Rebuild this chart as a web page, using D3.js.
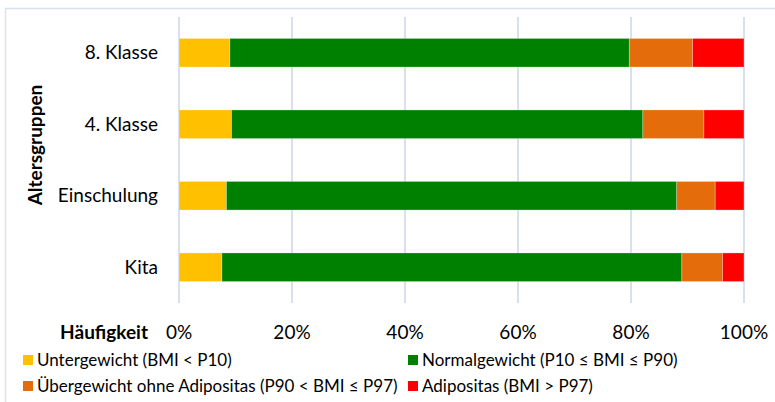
<!DOCTYPE html>
<html>
<head>
<meta charset="utf-8">
<script src="https://cdn.jsdelivr.net/npm/d3@7"></script>
<style>
  html, body { margin: 0; padding: 0; background: #fff; }
  svg { display: block; font-family: Lato, "Open Sans", sans-serif; }
</style>
</head>
<body>
<svg id="chart" width="775" height="402"></svg>
<script>
// Altersgruppen (oben nach unten)
const categories = ["8. Klasse", "4. Klasse", "Einschulung", "Kita"];

// Anteile je Gewichtsklasse in %
const untergewicht  = [9.0, 9.3, 8.4, 7.6];
const normalgewicht = [70.7, 72.8, 79.7, 81.4];
const uebergewicht  = [11.2, 10.8, 6.8, 7.2];
const adipositas    = [9.1, 7.1, 5.1, 3.8];

const seriesNames = [
  "Untergewicht (BMI < P10)",
  "Normalgewicht (P10 ≤ BMI ≤ P90)",
  "Übergewicht ohne Adipositas (P90 < BMI ≤ P97)",
  "Adipositas (BMI > P97)"
];
const seriesColors = ["#FFC000", "#008000", "#E46C0A", "#FF0000"];
const tickValues = [0, 20, 40, 60, 80, 100];

const svg = d3.select("#chart");

// Rahmen des Diagrammbereichs
svg.append("rect")
  .attr("x", 5.5).attr("y", 8.5)
  .attr("width", 800).attr("height", 420)
  .attr("fill", "none")
  .attr("stroke", "#D9E2F1")
  .attr("stroke-width", 1.5);

const plotTop = 17, plotBottom = 303;
const x = d3.scaleLinear().domain([0, 100]).range([179, 744]);
const y = d3.scaleBand().domain(categories).range([plotTop, plotBottom])
  .paddingInner(0.6).paddingOuter(0.3);

// Gitterlinien
svg.append("g").selectAll("line")
  .data(tickValues).join("line")
  .attr("x1", d => x(d)).attr("x2", d => x(d))
  .attr("y1", plotTop).attr("y2", plotBottom)
  .attr("stroke", "#D6E0F0")
  .attr("stroke-width", 2);

// Gestapelte Balken
const rows = categories.map((c, i) => ({
  cat: c,
  s0: untergewicht[i], s1: normalgewicht[i], s2: uebergewicht[i], s3: adipositas[i]
}));
const stack = d3.stack().keys(["s0", "s1", "s2", "s3"]);
const layers = stack(rows);

svg.append("g").selectAll("g")
  .data(layers).join("g")
  .attr("fill", (d, i) => seriesColors[i])
  .selectAll("rect")
  .data(d => d).join("rect")
  .attr("x", d => x(d[0]))
  .attr("width", d => x(d[1]) - x(d[0]))
  .attr("y", d => y(d.data.cat))
  .attr("height", y.bandwidth())
  .attr("stroke", "#ffffff")
  .attr("stroke-opacity", 0.35)
  .attr("stroke-width", 0.8);

// Kategorienbeschriftung
svg.append("g").selectAll("text")
  .data(categories).join("text")
  .attr("x", 158)
  .attr("y", d => y(d) + y.bandwidth() / 2)
  .attr("dy", "0.35em")
  .attr("text-anchor", "end")
  .attr("font-size", 19)
  .attr("fill", "#000")
  .text(d => d);

// Achsenbeschriftung x
svg.append("g").selectAll("text")
  .data(tickValues).join("text")
  .attr("x", d => x(d))
  .attr("y", 332)
  .attr("dy", "0.35em")
  .attr("text-anchor", "middle")
  .attr("font-size", 19)
  .attr("fill", "#000")
  .text(d => d + "%");

svg.append("text")
  .attr("x", 148).attr("y", 332).attr("dy", "0.35em")
  .attr("text-anchor", "end")
  .attr("font-size", 19).attr("font-weight", "bold")
  .text("Häufigkeit");

svg.append("text")
  .attr("transform", "translate(35,145) rotate(-90)")
  .attr("dy", "0.35em")
  .attr("text-anchor", "middle")
  .attr("font-size", 19).attr("font-weight", "bold")
  .text("Altersgruppen");

// Legende
const legendPos = [[23, 360], [408, 360], [23, 386], [408, 386]];
const legend = svg.append("g").selectAll("g")
  .data(seriesNames).join("g")
  .attr("transform", (d, i) => `translate(${legendPos[i][0]},${legendPos[i][1]})`);
legend.append("rect")
  .attr("x", 0).attr("y", -5).attr("width", 10).attr("height", 10)
  .attr("fill", (d, i) => seriesColors[i]);
legend.append("text")
  .attr("x", 14).attr("y", 0).attr("dy", "0.35em")
  .attr("font-size", 17)
  .attr("fill", "#000")
  .text(d => d);
</script>
</body>
</html>
